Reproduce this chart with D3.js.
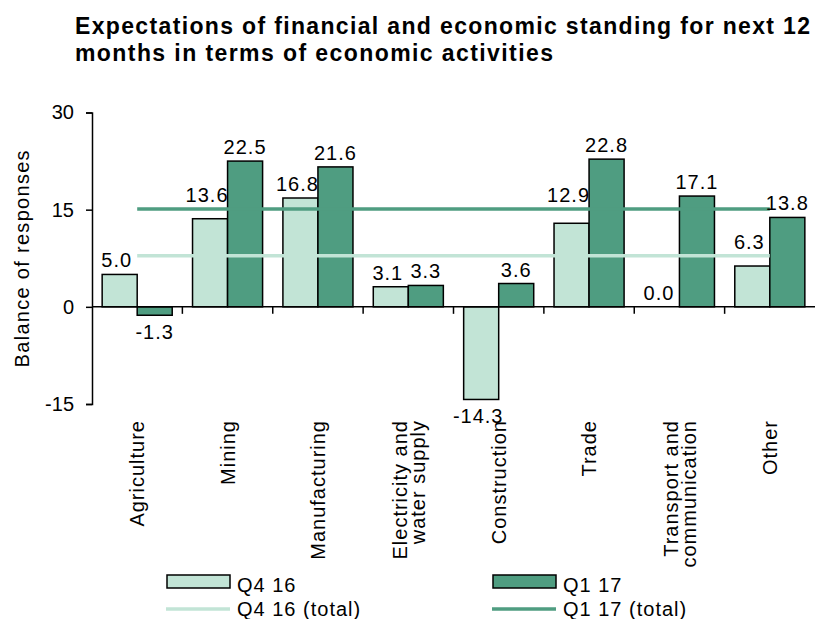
<!DOCTYPE html>
<html>
<head>
<meta charset="utf-8">
<script src="https://cdn.jsdelivr.net/npm/d3@7"></script>
<style>
  body { margin: 0; background: #fff; }
  text { font-family: "Liberation Sans", Arial, sans-serif; fill: #000; }
</style>
</head>
<body>
<svg width="815" height="619"></svg>
<script>
var categories = [
  ["Agriculture"],
  ["Mining"],
  ["Manufacturing"],
  ["Electricity and", "water supply"],
  ["Construction"],
  ["Trade"],
  ["Transport and", "communication"],
  ["Other"]
];
var seriesNames = ["Q4 16", "Q1 17"];
var q4Values = [5.0, 13.6, 16.8, 3.1, -14.3, 12.9, 0.0, 6.3];
var q1Values = [-1.3, 22.5, 21.6, 3.3, 3.6, 22.8, 17.1, 13.8];
var totalNames = ["Q4 16 (total)", "Q1 17 (total)"];
var totalValues = [7.9, 15.1];
var yTicks = [-15, 0, 15, 30];

var colors = ["#c2e4d6", "#4f9d81"];
var svg = d3.select("svg");
var keys = categories.map(function(c) { return c.join(" "); });

var x = d3.scaleBand().domain(keys).range([92, 815]);
var xInner = d3.scaleBand().domain(seriesNames).range([0, x.bandwidth()]).paddingOuter(0.29);
var y = d3.scaleLinear().domain([-15, 30]).range([404, 112.5]);

// plain hyphen for negatives, as in the source
function fmt1(v) { return v.toFixed(1); }

// title
var title = svg.append("g").attr("font-weight", "bold").attr("font-size", 23);
title.append("text").attr("x", 75).attr("y", 34)
  .attr("textLength", 735).attr("lengthAdjust", "spacing")
  .text("Expectations of financial and economic standing for next 12");
title.append("text").attr("x", 75).attr("y", 61)
  .attr("textLength", 478).attr("lengthAdjust", "spacing")
  .text("months in terms of economic activities");

// y axis
var yAxis = svg.append("g")
  .attr("transform", "translate(92,0)")
  .call(d3.axisLeft(y).tickValues(yTicks).tickSize(6).tickPadding(12).tickFormat(function(d) { return String(d); }));
yAxis.selectAll("path, line").attr("stroke", "#000").attr("stroke-width", 1.5);
yAxis.selectAll("text").attr("font-size", 20)
  .attr("font-family", "Liberation Sans, Arial, sans-serif");

svg.append("text")
  .attr("transform", "translate(29," + (y(-15) + y(30)) / 2 + ") rotate(-90)")
  .attr("text-anchor", "middle")
  .attr("font-size", 20)
  .style("letter-spacing", "1.3px")
  .text("Balance of responses");

// bars
var rows = [];
keys.forEach(function(k, i) {
  rows.push({ key: k, s: 0, v: q4Values[i] });
  rows.push({ key: k, s: 1, v: q1Values[i] });
});

svg.append("g").selectAll("rect")
  .data(rows)
  .enter().append("rect")
  .attr("x", function(d) { return x(d.key) + xInner(seriesNames[d.s]); })
  .attr("width", xInner.bandwidth())
  .attr("y", function(d) { return y(Math.max(0, d.v)); })
  .attr("height", function(d) { return Math.abs(y(d.v) - y(0)); })
  .attr("fill", function(d) { return colors[d.s]; })
  .attr("stroke", "#000")
  .attr("stroke-width", 1.5);

// category axis along zero
var xAxis = svg.append("g").attr("transform", "translate(0," + y(0) + ")");
xAxis.append("line").attr("x1", 92).attr("x2", 815).attr("stroke", "#000").attr("stroke-width", 1.5);
xAxis.selectAll(".tick")
  .data(keys.slice(1))
  .enter().append("line")
  .attr("x1", function(d) { return x(d); })
  .attr("x2", function(d) { return x(d); })
  .attr("y1", 0).attr("y2", 7)
  .attr("stroke", "#000").attr("stroke-width", 1.5);

// total lines
var lineX1 = x(keys[0]) + x.bandwidth() / 2;
var lineX2 = x(keys[keys.length - 1]) + x.bandwidth() / 2;
totalValues.forEach(function(v, i) {
  svg.append("line")
    .attr("x1", lineX1).attr("x2", lineX2)
    .attr("y1", y(v)).attr("y2", y(v))
    .attr("stroke", colors[i]).attr("stroke-width", 3.5);
});

// value labels, lifted above a total line when they would cross it
svg.append("g").selectAll("text")
  .data(rows)
  .enter().append("text")
  .attr("text-anchor", "middle")
  .attr("font-size", 20)
  .style("letter-spacing", "1px")
  .attr("x", function(d) {
    return x(d.key) + xInner(seriesNames[d.s]) + xInner.bandwidth() / 2 + (d.s === 0 ? -3 : 0);
  })
  .attr("y", function(d) {
    if (d.v < 0) return y(d.v) + 24;
    var base = y(d.v) - 7;
    var cx = x(d.key) + xInner(seriesNames[d.s]) + xInner.bandwidth() / 2;
    totalValues.forEach(function(t) {
      var ly = y(t);
      if (cx > lineX1 && cx < lineX2 && base + 2 > ly && base - 15 < ly) base = ly - 7;
    });
    return base;
  })
  .text(function(d) { return fmt1(d.v); });

// category labels
var catLabels = svg.append("g").selectAll("text")
  .data(categories)
  .enter().append("text")
  .attr("transform", function(d, i) {
    return "translate(" + (x(keys[i]) + x.bandwidth() / 2) + ",420) rotate(-90)";
  })
  .attr("text-anchor", "end")
  .attr("font-size", 20)
  .style("letter-spacing", "1px");
catLabels.each(function(d) {
  var t = d3.select(this);
  var n = d.length;
  d.forEach(function(line, j) {
    t.append("tspan")
      .attr("x", 0)
      .attr("y", (j - (n - 1) / 2) * 18)
      .attr("dy", "0.36em")
      .text(line);
  });
});

// legend
var legend = svg.append("g");
var legX = [167, 493];
seriesNames.forEach(function(name, i) {
  legend.append("rect")
    .attr("x", legX[i]).attr("y", 575).attr("width", 63).attr("height", 13)
    .attr("fill", colors[i]).attr("stroke", "#000").attr("stroke-width", 1.5);
  legend.append("text")
    .attr("x", legX[i] + 70).attr("y", 592)
    .attr("font-size", 20).style("letter-spacing", "1px")
    .text(name);
});
totalNames.forEach(function(name, i) {
  legend.append("line")
    .attr("x1", legX[i] - 1).attr("x2", legX[i] + 63)
    .attr("y1", 609).attr("y2", 609)
    .attr("stroke", colors[i]).attr("stroke-width", 3.5);
  legend.append("text")
    .attr("x", legX[i] + 70).attr("y", 616)
    .attr("font-size", 20).style("letter-spacing", "1px")
    .text(name);
});
</script>
</body>
</html>
